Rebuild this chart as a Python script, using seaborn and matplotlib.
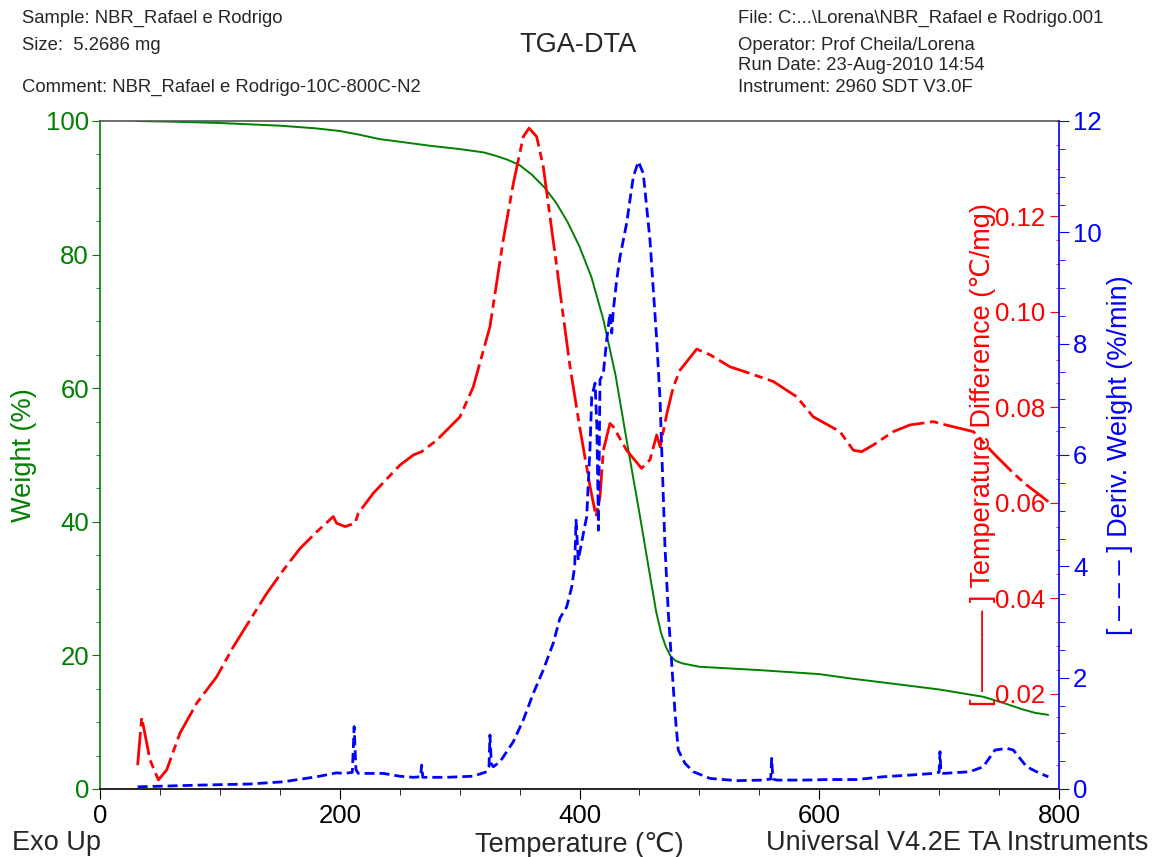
import matplotlib
matplotlib.use("Agg")
import matplotlib.pyplot as plt
import seaborn as sns
from matplotlib.ticker import MultipleLocator, FixedLocator, FormatStrFormatter

# Perte de masse (TGA)
temp_weight = [30, 60, 100, 150, 180, 200, 215, 233, 250, 275, 300, 320, 330, 340, 350, 360, 370,
               380, 390, 400, 410, 420, 430, 440, 450, 458, 464, 468, 472, 476, 480, 486, 500,
               550, 600, 628, 660, 700, 737, 755, 770, 780, 791]
weight = [100, 99.9, 99.7, 99.3, 98.9, 98.5, 98.0, 97.3, 96.9, 96.3, 95.8, 95.3, 94.8, 94.2, 93.4,
          92.0, 90.2, 87.9, 84.9, 81.2, 76.6, 70.2, 62.0, 51.5, 41.3, 32.8, 26.5, 23.4, 21.3, 19.9,
          19.2, 18.8, 18.3, 17.8, 17.2, 16.5, 15.8, 14.9, 13.8, 12.8, 11.9, 11.4, 11.1]

# Difference de temperature (DTA)
temp_dta = [31.4, 34.8, 41.7, 48.7, 55.6, 66.7, 80.7, 97.3, 111.2, 125.1, 139.1, 153.0, 166.8,
            180.8, 194.6, 197.4, 204.4, 212.7, 215.5, 228.0, 250.3, 261.4, 268.3, 280.9, 300.3,
            311.4, 325.3, 336.4, 344.8, 353.1, 357.9, 364.3, 369.8, 375.4, 381.0, 386.5, 392.1,
            400.4, 408.8, 413.8, 417.1, 419.9, 425.4, 428.2, 439.3, 451.8, 458.8, 464.4, 467.3,
            472.9, 478.3, 483.9, 497.8, 508.9, 525.5, 542.2, 561.7, 581.2, 595.0, 617.3, 628.4,
            635.4, 645.1, 661.8, 675.7, 695.2, 700.7, 728.5, 745.2, 761.9, 773.0, 784.1, 791.1]
dta = [0.0050, 0.0150, 0.0061, 0.0019, 0.0040, 0.0117, 0.0180, 0.0235, 0.0298, 0.0354, 0.0410,
       0.0459, 0.0504, 0.0539, 0.0571, 0.0557, 0.0550, 0.0557, 0.0578, 0.0620, 0.0679, 0.0700,
       0.0707, 0.0731, 0.0780, 0.0843, 0.0969, 0.1151, 0.1269, 0.1367, 0.1385, 0.1367, 0.1304,
       0.1199, 0.1095, 0.0990, 0.0885, 0.0755, 0.0634, 0.0571, 0.0613, 0.0710, 0.0766, 0.0759,
       0.0710, 0.0672, 0.0690, 0.0742, 0.0717, 0.0787, 0.0843, 0.0878, 0.0922, 0.0910, 0.0885,
       0.0871, 0.0854, 0.0822, 0.0780, 0.0749, 0.0710, 0.0707, 0.0721, 0.0749, 0.0763, 0.0770,
       0.0766, 0.0749, 0.0704, 0.0662, 0.0637, 0.0616, 0.0602]

# Derivee de la masse (DTG)
temp_deriv = [31.4, 50, 83.4, 125, 153, 180.8, 197.4, 204.4, 210.5, 212.0, 213.5, 215.5, 236.3,
              250, 261.4, 267.5, 268.3, 269.3, 289.2, 311.4, 322.6, 324.5, 325.3, 326.5, 328.1,
              333.7, 344.8, 353.1, 361.5, 369.8, 378.1, 383.7, 389.3, 393.5, 396.0, 397.1, 399.0,
              403.2, 406.0, 408.8, 410.2, 413.0, 414.5, 415.8, 417.1, 419.9, 422.7, 425.4, 426.9,
              428.2, 431.0, 433.8, 439.3, 444.9, 449.1, 453.2, 456.0, 458.8, 461.6, 464.4, 467.2,
              468.5, 471.3, 474.1, 476.9, 479.7, 482.4, 488, 495, 508.9, 531.1, 553.3, 559.5, 560.3,
              561.3, 564.5, 586.7, 609, 631.2, 653.4, 675.7, 695.2, 700.0, 700.7, 701.5, 703.5,
              725.7, 736.8, 746.6, 756.4, 761.9, 773, 784.1, 791.1]
deriv = [0.04, 0.05, 0.07, 0.09, 0.13, 0.22, 0.29, 0.28, 0.30, 1.12, 0.35, 0.28, 0.28,
         0.23, 0.21, 0.22, 0.43, 0.21, 0.21, 0.23, 0.31, 0.40, 0.97, 0.45, 0.40,
         0.49, 0.85, 1.24, 1.72, 2.14, 2.62, 3.07, 3.27, 3.63, 4.0, 4.83, 4.11,
         4.59, 4.89, 6.15, 7.05, 7.29, 6.5, 4.65, 7.35, 7.47, 8.07, 8.55, 8.19,
         8.60, 9.14, 9.56, 10.16, 11.00, 11.27, 11.06, 10.46, 9.86, 8.96, 8.07, 6.99,
         6.15, 4.35, 3.16, 2.26, 1.36, 0.70, 0.46, 0.31, 0.19, 0.15, 0.16, 0.18, 0.55,
         0.18, 0.16, 0.16, 0.17, 0.17, 0.22, 0.25, 0.28, 0.30, 0.67, 0.30, 0.28,
         0.31, 0.40, 0.70, 0.73, 0.70, 0.40, 0.28, 0.22]

weight_ticks = [0, 20, 40, 60, 80, 100]
dta_ticks = [0.02, 0.04, 0.06, 0.08, 0.10, 0.12]
deriv_ticks = [0, 2, 4, 6, 8, 10, 12]
temp_ticks = [0, 200, 400, 600, 800]

header_left = ["Sample: NBR_Rafael e Rodrigo", "Size:  5.2686 mg", "Comment: NBR_Rafael e Rodrigo-10C-800C-N2"]
header_right = ["File: C:...\\Lorena\\NBR_Rafael e Rodrigo.001", "Operator: Prof Cheila/Lorena",
                "Run Date: 23-Aug-2010 14:54", "Instrument: 2960 SDT V3.0F"]

# --- STYLE ---
VERT = "#008000"
ROUGE = "#ff0000"
BLEU = "#0000ff"
W, H = 1162, 857

sns.set_style("white")
plt.rcParams['font.family'] = ['Liberation Sans', 'DejaVu Sans']

fig = plt.figure(figsize=(W / 100, H / 100), dpi=100)
ax = fig.add_axes([100 / W, 1 - 789 / H, 959 / W, 668 / H])
ax_dta = ax.twinx()
ax_dtg = ax.twinx()

# courbes
sns.lineplot(x=temp_weight, y=weight, ax=ax, color=VERT, lw=1.4, sort=False, estimator=None)
sns.lineplot(x=temp_dta, y=dta, ax=ax_dta, color=ROUGE, lw=2, sort=False, estimator=None,
             linestyle=(0, (12, 2, 3, 2)))
sns.lineplot(x=temp_deriv, y=deriv, ax=ax_dtg, color=BLEU, lw=2, sort=False, estimator=None,
             linestyle=(0, (3.6, 1.8)))

# axe X
ax.set_xlim(0, 800)
ax.xaxis.set_major_locator(FixedLocator(temp_ticks))
ax.xaxis.set_minor_locator(MultipleLocator(50))
ax.tick_params(axis='x', which='both', direction='out', colors='black', labelsize=18.5, bottom=True, top=False)
ax.tick_params(axis='x', which='major', length=7)
ax.tick_params(axis='x', which='minor', length=4.5)
ax.set_xlabel("Temperature (\u2103)", fontsize=19.5, labelpad=3)

# axe masse (gauche)
ax.set_ylim(0, 100)
ax.yaxis.set_major_locator(FixedLocator(weight_ticks))
ax.yaxis.set_minor_locator(MultipleLocator(5))
ax.tick_params(axis='y', which='both', direction='out', colors=VERT, labelsize=18.5, left=True, pad=2)
ax.tick_params(axis='y', which='major', length=6)
ax.tick_params(axis='y', which='minor', length=3)
ax.set_ylabel("Weight (%)", color=VERT, fontsize=19.5, labelpad=6)

# axe DTA (droite, graduations vers l'interieur)
ax_dta.set_ylim(0, 0.14)
ax_dta.yaxis.set_major_locator(FixedLocator(dta_ticks))
ax_dta.yaxis.set_minor_locator(MultipleLocator(0.005))
ax_dta.yaxis.set_major_formatter(FormatStrFormatter('%.2f'))
ax_dta.tick_params(axis='y', which='both', direction='in', colors=ROUGE, labelsize=18.5, right=True, pad=-10)
ax_dta.tick_params(axis='y', which='major', length=6.5)
ax_dta.tick_params(axis='y', which='minor', length=2.5)
for lab in ax_dta.get_yticklabels():
    lab.set_horizontalalignment('right')
ax_dta.set_ylabel("")
ax_dta.text(0.9207, 0.5, "[ \u2014\u2014\u2014 ] Temperature Difference (\u2103/mg)", color=ROUGE,
            fontsize=19.5, rotation=90, ha='center', va='center', transform=ax_dta.transAxes)

# axe DTG (droite, exterieur)
ax_dtg.set_ylim(0, 12)
ax_dtg.yaxis.set_major_locator(FixedLocator(deriv_ticks))
ax_dtg.yaxis.set_minor_locator(MultipleLocator(0.5))
ax_dtg.tick_params(axis='y', which='both', direction='out', colors=BLEU, labelsize=18.5, right=True, pad=3)
ax_dtg.tick_params(axis='y', which='major', length=7)
ax_dtg.tick_params(axis='y', which='minor', length=4.3)
ax_dtg.set_ylabel("[ \u2013 \u2013 \u2013 ] Deriv. Weight (%/min)", color=BLEU, fontsize=19.5, labelpad=4)

# cadres
for a in (ax, ax_dta, ax_dtg):
    for s in a.spines.values():
        s.set_visible(False)
    a.grid(False)
ax.spines['left'].set_visible(True)
ax.spines['left'].set_color(VERT)
ax.spines['bottom'].set_visible(True)
ax.spines['bottom'].set_color('black')
ax.spines['top'].set_visible(True)
ax.spines['top'].set_color('#555555')
ax_dtg.spines['right'].set_visible(True)
ax_dtg.spines['right'].set_color(BLEU)
for s in ax.spines.values():
    s.set_linewidth(1.2)
ax_dtg.spines['right'].set_linewidth(1.2)

# en-tete
for txt, y in zip(header_left, [18, 45, 87]):
    fig.text(22 / W, 1 - y / H, txt, fontsize=13.3, ha='left', va='center')
for txt, y in zip(header_right, [18, 45, 66, 87]):
    fig.text(738 / W, 1 - y / H, txt, fontsize=13.3, ha='left', va='center')
fig.text(578 / W, 1 - 45 / H, "TGA-DTA", fontsize=19.5, ha='center', va='center')

# pied de page
fig.text(12 / W, 1 - 843 / H, "Exo Up", fontsize=19.5, ha='left', va='center')
fig.text(1148 / W, 1 - 843 / H, "Universal V4.2E TA Instruments", fontsize=19.5, ha='right', va='center')

fig.savefig("out.png", dpi=100)
plt.close(fig)
